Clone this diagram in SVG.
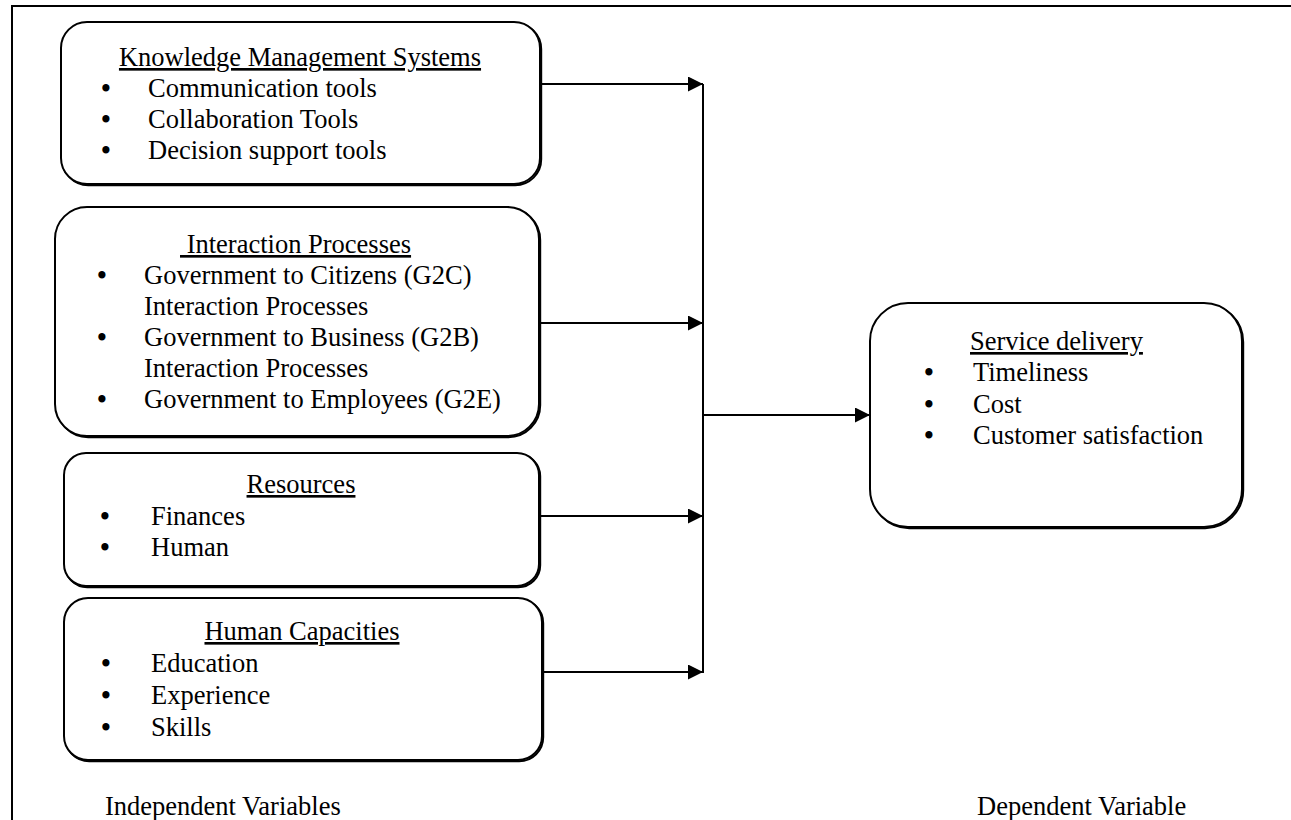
<svg xmlns="http://www.w3.org/2000/svg" width="1291" height="820" viewBox="0 0 1291 820">
<defs>
<style>
text{font-family:"Liberation Serif","Times New Roman",serif;font-size:26.5px;fill:#000}
.t{text-anchor:middle;text-decoration:underline}
.b{text-anchor:middle;font-weight:bold}
.box{fill:#fff;stroke:#000;stroke-width:2}
.sh{fill:none;stroke:#000;stroke-width:2}
.ln{fill:none;stroke:#000;stroke-width:2}
</style>
<marker id="ah" markerUnits="userSpaceOnUse" markerWidth="16" markerHeight="16" refX="15" refY="7.5" orient="auto">
<path d="M0,0 L15,7.5 L0,15 z" fill="#000"/>
</marker>
</defs>
<rect width="1291" height="820" fill="#fff"/>
<g id="frame">
<path class="ln" d="M12,820 V6 H1291"/>
</g>
<g id="connectors">
<path class="ln" d="M703,84 V673"/>
<path class="ln" d="M537,84 H703" marker-end="url(#ah)"/>
<path class="ln" d="M537,323 H703" marker-end="url(#ah)"/>
<path class="ln" d="M539,516 H703" marker-end="url(#ah)"/>
<path class="ln" d="M542,672 H703" marker-end="url(#ah)"/>
<path class="ln" d="M703,415 H870" marker-end="url(#ah)"/>
</g>
<g id="kms">
<rect class="sh" x="62.2" y="23.2" width="479" height="162" rx="26"/>
<rect class="box" x="61" y="22" width="479" height="162" rx="26"/>
<text class="t" x="300" y="66">Knowledge Management Systems</text>
<text class="b" x="106" y="97">•</text><text x="148" y="97">Communication tools</text>
<text class="b" x="106" y="128">•</text><text x="148" y="128">Collaboration Tools</text>
<text class="b" x="106" y="159">•</text><text x="148" y="159">Decision support tools</text>
</g>
<g id="interaction">
<rect class="sh" x="56.2" y="208.2" width="484" height="229" rx="32"/>
<rect class="box" x="55" y="207" width="484" height="229" rx="32"/>
<text x="180" y="253" style="text-decoration:underline" xml:space="preserve"> Interaction Processes</text>
<text class="b" x="102" y="284">•</text><text x="144" y="284">Government to Citizens (G2C)</text>
<text x="144" y="315">Interaction Processes</text>
<text class="b" x="102" y="346">•</text><text x="144" y="346">Government to Business (G2B)</text>
<text x="144" y="377">Interaction Processes</text>
<text class="b" x="102" y="408">•</text><text x="144" y="408">Government to Employees (G2E)</text>
</g>
<g id="resources">
<rect class="sh" x="65.2" y="454.2" width="475" height="133" rx="22"/>
<rect class="box" x="64" y="453" width="475" height="133" rx="22"/>
<text class="t" x="301" y="493">Resources</text>
<text class="b" x="105" y="525">•</text><text x="151" y="525">Finances</text>
<text class="b" x="105" y="556">•</text><text x="151" y="556">Human</text>
</g>
<g id="capacities">
<rect class="sh" x="65.2" y="599.2" width="478" height="162" rx="24"/>
<rect class="box" x="64" y="598" width="478" height="162" rx="24"/>
<text class="t" x="302" y="640">Human Capacities</text>
<text class="b" x="106" y="672">•</text><text x="151" y="672">Education</text>
<text class="b" x="106" y="704">•</text><text x="151" y="704">Experience</text>
<text class="b" x="106" y="736">•</text><text x="151" y="736">Skills</text>
</g>
<g id="service">
<rect class="sh" x="871.2" y="304.2" width="372" height="224" rx="38"/>
<rect class="box" x="870" y="303" width="372" height="224" rx="38"/>
<text x="970" y="350" style="text-decoration:underline">Service delivery</text>
<text class="b" x="929" y="381">•</text><text x="973" y="381">Timeliness</text>
<text class="b" x="929" y="413">•</text><text x="973" y="413">Cost</text>
<text class="b" x="929" y="444">•</text><text x="973" y="444">Customer satisfaction</text>
</g>
<g id="labels">
<text x="105" y="815">Independent Variables</text>
<text x="977" y="815">Dependent Variable</text>
</g>
</svg>
